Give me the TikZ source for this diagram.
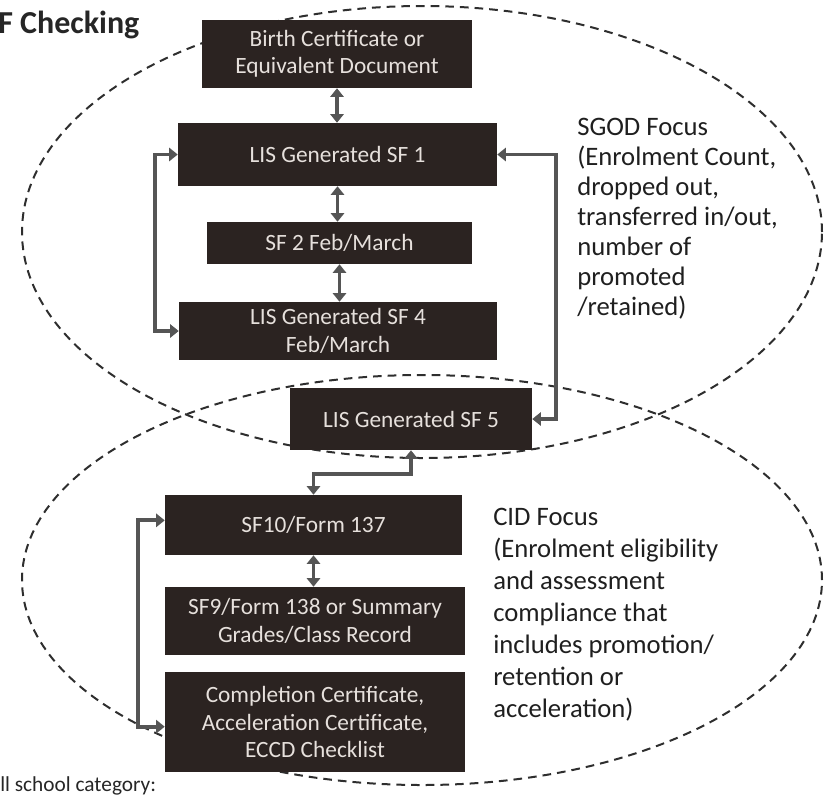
\documentclass[tikz,border=0pt]{standalone}
\usepackage{fontspec}
\setmainfont{Carlito}
\usetikzlibrary{arrows.meta,shapes.geometric,calc}
\definecolor{boxfill}{HTML}{2B2321}
\definecolor{boxtext}{HTML}{E6E0DC}
\definecolor{arr}{HTML}{555555}
\definecolor{dashc}{HTML}{2E2E2E}
\begin{document}
\begin{tikzpicture}[x=0.75pt,y=-0.75pt,
  docbox/.style={fill=boxfill, text=boxtext, font=\fontsize{17.5}{20.5}\selectfont, align=center, inner sep=0pt},
  link/.style={draw=arr, line width=2.8pt, {Triangle[width=10pt,length=6.5pt]}-{Triangle[width=10pt,length=6.5pt]}},
  focus/.style={draw=dashc, dash pattern=on 6.5pt off 4.5pt, line width=1.5pt, ellipse, inner sep=0pt},
  sidetext/.style={align=left, anchor=north west, inner sep=0pt, text=black!88}]

\useasboundingbox (0,0) rectangle (824,797);
\clip (0,0) rectangle (824,797);

% focus ellipses
\node[focus, minimum width=600pt, minimum height=339pt] (sgod) at (422,232) {};
\node[focus, minimum width=600pt, minimum height=307.5pt] (cid) at (422,580) {};

% title and footer
\node[anchor=west, inner sep=0pt, font=\fontsize{24}{27}\selectfont\bfseries, text=black!85] (title) at (-2,25) {F Checking};
\node[anchor=north west, inner sep=0pt, font=\fontsize{16}{19}\selectfont, text=black!85] (foot) at (0,776) {ll school category:};

% document boxes
\node[docbox, minimum width=202.5pt, minimum height=51pt] (b1) at (337,54) {Birth Certificate or\\Equivalent Document};
\node[docbox, minimum width=239.25pt, minimum height=47.25pt] (b2) at (337.5,154.5) {LIS Generated SF 1};
\node[docbox, minimum width=198.75pt, minimum height=31.5pt] (b3) at (339.5,243) {SF 2 Feb/March};
\node[docbox, minimum width=238.5pt, minimum height=43.5pt] (b4) at (338,331) {LIS Generated SF 4\\Feb/March};
\node[docbox, minimum width=181.5pt, minimum height=46.5pt] (b5) at (411,419) {LIS Generated SF 5};
\node[docbox, minimum width=222.75pt, minimum height=45pt] (b6) at (313.5,525) {SF10/Form 137};
\node[docbox, minimum width=225pt, minimum height=51pt] (b7) at (315,621) {SF9/Form 138 or Summary\\Grades/Class Record};
\node[docbox, minimum width=225pt, minimum height=75pt] (b8) at (315,722) {Completion Certificate,\\Acceleration Certificate,\\ECCD Checklist};

% focus texts
\node[sidetext, font=\fontsize{20}{22.5}\selectfont] (sgodtxt) at (577,118) {SGOD Focus\\(Enrolment Count,\\dropped out,\\transferred in/out,\\number of\\promoted\\/retained)};
\node[sidetext, font=\fontsize{20}{24}\selectfont] (cidtxt) at (493,508) {CID Focus\\(Enrolment eligibility\\and assessment\\compliance that\\includes promotion/\\retention or\\acceleration)};

% connectors
\draw[link] (b1.south) -- (b1.south |- b2.north);
\draw[link] (b2.south) -- (b2.south |- b3.north);
\draw[link] (b3.south) -- (b3.south |- b4.north);
\draw[link] (b2.west) -- ++(-23,0) |- (b4.west);
\draw[link] (b2.east) -- ++(59,0) |- (b5.east);
\draw[link] (b5.south) -- ++(0,24) -| (b6.north);
\draw[link] (b6.south) -- (b6.south |- b7.north);
\draw[link] ([yshift=3.5pt]b6.west) -- ++(-27,0) |- ([yshift=-3.5pt]b8.west);
\end{tikzpicture}
\end{document}
